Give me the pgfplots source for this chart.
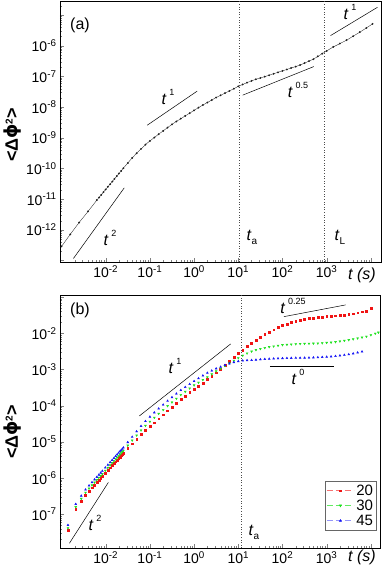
\documentclass[border=0pt]{standalone}
\usepackage{fontspec}
\setmainfont{Liberation Sans}
\newfontfamily\dejavu{DejaVu Sans}
\usepackage{pgfplots}
\pgfplotsset{compat=1.18}
\newcommand{\tp}[1]{10\textsuperscript{#1}}
\newcommand{\gl}[1]{\textit{t}\,\raisebox{1.1ex}{\fontsize{9}{9}\selectfont #1}}
\newcommand{\gs}[1]{\textit{t}\raisebox{-0.5ex}{\fontsize{10}{10}\selectfont #1}}
\newcommand{\ylab}{\fontsize{18}{18}\selectfont\bfseries <Δ{\dejavu\bfseries ϕ}\raisebox{0.55ex}{\fontsize{10}{10}\selectfont 2}>}
\definecolor{mygreen}{RGB}{30,225,30}
\definecolor{myred}{RGB}{240,20,20}
\definecolor{myblue}{RGB}{20,20,245}
\begin{document}
\begin{tikzpicture}
\useasboundingbox (0pt,0pt) rectangle (382pt,575pt);
% ---------------- panel (a)
\begin{axis}[at={(60pt,313pt)}, anchor=south west, scale only axis, width=321pt, height=261pt,
  xmode=log, ymode=log,
  tick align=inside, xtick pos=bottom, ytick pos=left,
  major tick length=4pt, minor tick length=2pt,
  axis line style={line width=0.7pt},
  ticklabel style={font=\fontsize{14}{14}\selectfont},
  xtick={1e-2,1e-1,1,10,100,1000,10000},
  xticklabels={\tp{-2},\tp{-1},\tp{0},\tp{1},\tp{2},\tp{3},},
  minor xtick={0.002,0.003,0.004,0.005,0.006,0.007,0.008,0.009,0.02,0.03,0.04,0.05,0.06,0.07,0.08,0.09,0.2,0.3,0.4,0.5,0.6,0.7,0.8,0.9,2,3,4,5,6,7,8,9,20,30,40,50,60,70,80,90,200,300,400,500,600,700,800,900,2000,3000,4000,5000,6000,7000,8000,9000},
  xmin=9.25e-4, xmax=1.7e4, ymin=9e-14, ymax=2.86e-5,
  ytick={1e-13,1e-12,1e-11,1e-10,1e-9,1e-8,1e-7,1e-6,1e-5},
  yticklabels={,\tp{-12},\tp{-11},\tp{-10},\tp{-9},\tp{-8},\tp{-7},\tp{-6},},
  minor ytick={2e-13,3e-13,4e-13,5e-13,6e-13,7e-13,8e-13,9e-13,2e-12,3e-12,4e-12,5e-12,6e-12,7e-12,8e-12,9e-12,2e-11,3e-11,4e-11,5e-11,6e-11,7e-11,8e-11,9e-11,2e-10,3e-10,4e-10,5e-10,6e-10,7e-10,8e-10,9e-10,2e-9,3e-9,4e-9,5e-9,6e-9,7e-9,8e-9,9e-9,2e-8,3e-8,4e-8,5e-8,6e-8,7e-8,8e-8,9e-8,2e-7,3e-7,4e-7,5e-7,6e-7,7e-7,8e-7,9e-7,2e-6,3e-6,4e-6,5e-6,6e-6,7e-6,8e-6,9e-6,2e-5},
]
\addplot[black!85, line width=0.35pt, mark=*, mark size=0.75pt, mark options={fill=black}] coordinates {
(1e-3,2.88e-13) (1.58e-3,7.2e-13) (2.51e-3,1.74e-12) (3.98e-3,3.98e-12) (6.31e-3,9.33e-12)
(7.08e-3,1.14e-11) (7.94e-3,1.39e-11) (8.91e-3,1.70e-11) (1e-2,2.07e-11) (1.12e-2,2.54e-11)
(1.26e-2,3.09e-11) (1.41e-2,3.77e-11) (1.58e-2,4.60e-11) (1.78e-2,5.62e-11) (2.0e-2,6.87e-11)
(2.24e-2,8.38e-11) (2.51e-2,1.02e-10) (3.16e-2,1.51e-10) (3.98e-2,2.22e-10) (5.01e-2,3.12e-10)
(6.31e-2,4.33e-10) (7.94e-2,6.0e-10) (0.1,7.89e-10) (0.126,1.02e-9) (0.158,1.31e-9)
(0.2,1.68e-9) (0.251,2.15e-9) (0.316,2.74e-9) (0.398,3.41e-9) (0.501,4.20e-9)
(0.631,5.16e-9) (0.794,6.35e-9) (1,7.82e-9) (1.26,9.62e-9) (1.58,1.17e-8)
(2.0,1.41e-8) (2.51,1.70e-8) (3.16,2.05e-8) (3.98,2.42e-8) (5.01,2.85e-8)
(6.31,3.36e-8) (7.94,3.98e-8) (10,4.73e-8) (12.6,5.47e-8) (15.8,6.27e-8)
(20,7.18e-8) (25.1,8.05e-8) (31.6,8.89e-8) (39.8,9.84e-8) (50.1,1.09e-7)
(63.1,1.22e-7) (79.4,1.36e-7) (100,1.51e-7) (126,1.69e-7) (158,1.88e-7)
(200,2.10e-7) (251,2.34e-7) (316,2.71e-7) (398,3.14e-7) (501,3.63e-7)
(631,4.47e-7) (794,5.50e-7) (1000,6.76e-7) (1413,9.12e-7) (1995,1.17e-6)
(2818,1.51e-6) (3981,2.04e-6) (5623,2.75e-6) (7943,3.80e-6) (10965,5.13e-6)
};
\addplot[black, line width=0.5pt] coordinates {(1.86e-3,1.17e-13) (2.63e-2,2.34e-11)};
\addplot[black, line width=0.5pt] coordinates {(8.71e-2,2.57e-9) (1.175,3.31e-8)};
\addplot[black, line width=0.5pt] coordinates {(12.6,2.45e-8) (513,2.09e-7)};
\addplot[black, line width=0.5pt] coordinates {(1230,2.14e-6) (1.41e4,1.78e-5)};
\addplot[black!70, line width=0.6pt, dash pattern=on 0.6pt off 2pt] coordinates {(10.5,9e-14) (10.5,2.86e-5)};
\addplot[black!70, line width=0.6pt, dash pattern=on 0.6pt off 2pt] coordinates {(900,9e-14) (900,2.86e-5)};
\end{axis}
% ---------------- panel (b)
\begin{axis}[at={(60pt,27pt)}, anchor=south west, scale only axis, width=320pt, height=253pt,
  xmode=log, ymode=log,
  tick align=inside, xtick pos=bottom, ytick pos=left,
  major tick length=4pt, minor tick length=2pt,
  axis line style={line width=0.7pt},
  ticklabel style={font=\fontsize{14}{14}\selectfont},
  xtick={1e-2,1e-1,1,10,100,1000,10000},
  xticklabels={\tp{-2},\tp{-1},\tp{0},\tp{1},\tp{2},\tp{3},},
  minor xtick={0.002,0.003,0.004,0.005,0.006,0.007,0.008,0.009,0.02,0.03,0.04,0.05,0.06,0.07,0.08,0.09,0.2,0.3,0.4,0.5,0.6,0.7,0.8,0.9,2,3,4,5,6,7,8,9,20,30,40,50,60,70,80,90,200,300,400,500,600,700,800,900,2000,3000,4000,5000,6000,7000,8000,9000},
  xmin=9.25e-4, xmax=1.61e4, ymin=1.17e-8, ymax=0.114,
  ytick={1e-8,1e-7,1e-6,1e-5,1e-4,1e-3,1e-2,1e-1},
  yticklabels={,\tp{-7},\tp{-6},\tp{-5},\tp{-4},\tp{-3},\tp{-2},},
  minor ytick={2e-8,3e-8,4e-8,5e-8,6e-8,7e-8,8e-8,9e-8,2e-7,3e-7,4e-7,5e-7,6e-7,7e-7,8e-7,9e-7,2e-6,3e-6,4e-6,5e-6,6e-6,7e-6,8e-6,9e-6,2e-5,3e-5,4e-5,5e-5,6e-5,7e-5,8e-5,9e-5,2e-4,3e-4,4e-4,5e-4,6e-4,7e-4,8e-4,9e-4,2e-3,3e-3,4e-3,5e-3,6e-3,7e-3,8e-3,9e-3,2e-2,3e-2,4e-2,5e-2,6e-2,7e-2,8e-2,9e-2},
  legend style={at={(0.99,0.07)}, anchor=south east, draw=black!60, line width=0.5pt,
    font=\fontsize{15}{15}\selectfont, inner sep=1.5pt, row sep=-1pt},
  legend cell align=left,
]
\addplot[only marks, mark=square*, mark size=0.9pt, myred,
  legend image code/.code={\draw[myred!60, dash pattern=on 6pt off 3pt, line width=0.6pt] (0pt,0pt) -- (27pt,0pt); \fill[myred] (12.6pt,-0.9pt) rectangle (14.4pt,0.9pt);}] coordinates {
(0.0014,3.55e-8) (0.0021,1.35e-7) (0.0028,2.29e-7) (0.0035,3.39e-7) (0.0042,4.39e-7)
(0.0049,5.40e-7) (0.0056,6.46e-7) (0.0063,7.57e-7) (0.007,8.73e-7) (0.0077,9.91e-7)
(0.0084,1.11e-6) (0.0098,1.37e-6) (0.0112,1.64e-6) (0.0126,1.93e-6) (0.014,2.22e-6)
(0.0154,2.52e-6) (0.0168,2.84e-6) (0.0182,3.17e-6) (0.0196,3.50e-6) (0.021,3.85e-6)
(0.0224,4.19e-6) (0.0238,4.55e-6) (0.0252,4.90e-6)
(0.0316,6.61e-6) (0.0398,8.95e-6) (0.0501,1.21e-5) (0.0631,1.64e-5) (0.0794,2.14e-5)
(0.1,2.69e-5) (0.126,3.40e-5) (0.158,4.39e-5) (0.2,5.65e-5) (0.251,7.26e-5)
(0.316,9.29e-5) (0.398,1.19e-4) (0.501,1.51e-4) (0.631,1.87e-4) (0.794,2.32e-4)
(1,2.86e-4) (1.26,3.50e-4) (1.58,4.28e-4) (2.0,5.25e-4) (2.51,6.53e-4)
(3.16,8.13e-4) (3.98,1.04e-3) (5.01,1.34e-3) (6.31,1.71e-3) (7.94,2.17e-3)
(10,2.75e-3) (12.6,3.47e-3) (15.8,4.34e-3) (20,5.40e-3) (25.1,6.55e-3)
(31.6,7.82e-3) (39.8,9.31e-3) (50.1,1.09e-2) (63.1,1.25e-2) (79.4,1.44e-2)
(100,1.65e-2) (126,1.82e-2) (158,1.98e-2) (200,2.15e-2) (251,2.34e-2)
(316,2.45e-2) (398,2.56e-2) (501,2.67e-2) (631,2.77e-2) (794,2.84e-2)
(1000,2.91e-2) (1259,2.99e-2) (1585,3.05e-2) (1995,3.13e-2) (2512,3.21e-2)
(3162,3.29e-2) (3981,3.46e-2) (5012,3.68e-2) (6310,3.92e-2) (7943,4.17e-2)
(10000,4.83e-2)
};
\addlegendentry{20}
\addplot[only marks, mark=triangle*, mark size=1.1pt, mark options={rotate=180}, mygreen,
  legend image code/.code={\draw[mygreen!70, dash pattern=on 6pt off 3pt, line width=0.6pt] (0pt,0pt) -- (27pt,0pt); \fill[mygreen] (13.5pt,-1.1pt) -- (12.4pt,0.8pt) -- (14.6pt,0.8pt) -- cycle;}] coordinates {
(0.0014,4.17e-8) (0.0021,1.59e-7) (0.0028,2.69e-7) (0.0035,3.98e-7) (0.0042,5.16e-7)
(0.0049,6.35e-7) (0.0056,7.59e-7) (0.0063,8.89e-7) (0.007,1.03e-6) (0.0077,1.16e-6)
(0.0084,1.30e-6) (0.0098,1.61e-6) (0.0112,1.93e-6) (0.0126,2.27e-6) (0.014,2.61e-6)
(0.0154,2.96e-6) (0.0168,3.34e-6) (0.0182,3.72e-6) (0.0196,4.11e-6) (0.021,4.52e-6)
(0.0224,4.92e-6) (0.0238,5.35e-6) (0.0252,5.76e-6)
(0.0316,7.94e-6) (0.0398,1.10e-5) (0.0501,1.51e-5) (0.0631,2.09e-5) (0.0794,2.80e-5)
(0.1,3.63e-5) (0.126,4.69e-5) (0.158,6.0e-5) (0.2,7.67e-5) (0.251,9.79e-5)
(0.316,1.24e-4) (0.398,1.57e-4) (0.501,1.99e-4) (0.631,2.44e-4) (0.794,3.01e-4)
(1,3.67e-4) (1.26,4.36e-4) (1.58,5.16e-4) (2.0,6.14e-4) (2.51,7.41e-4)
(3.16,8.95e-4) (3.98,1.06e-3) (5.01,1.26e-3) (6.31,1.49e-3) (7.94,1.76e-3)
(10,2.07e-3) (12.6,2.43e-3) (15.8,2.79e-3) (20,3.15e-3) (25.1,3.45e-3)
(31.6,3.70e-3) (39.8,3.96e-3) (50.1,4.18e-3) (63.1,4.36e-3) (79.4,4.55e-3)
(100,4.74e-3) (126,4.85e-3) (158,4.94e-3) (200,5.04e-3) (251,5.13e-3)
(316,5.16e-3) (398,5.19e-3) (501,5.22e-3) (631,5.27e-3) (794,5.37e-3)
(1000,5.47e-3) (1259,5.57e-3) (1585,5.74e-3) (1995,6.0e-3) (2512,6.25e-3)
(3162,6.52e-3) (3981,6.87e-3) (5012,7.26e-3) (6310,7.69e-3) (7943,8.13e-3)
(10000,8.93e-3) (12589,9.82e-3) (14791,1.05e-2)
};
\addlegendentry{30}
\addplot[only marks, mark=triangle*, mark size=1.1pt, myblue,
  legend image code/.code={\draw[myblue!45, dash pattern=on 6pt off 3pt, line width=0.9pt] (0pt,0pt) -- (27pt,0pt); \fill[myblue] (13.5pt,1.1pt) -- (12.4pt,-0.8pt) -- (14.6pt,-0.8pt) -- cycle;}] coordinates {
(0.0014,5.02e-8) (0.0021,1.91e-7) (0.0028,3.24e-7) (0.0035,4.79e-7) (0.0042,6.20e-7)
(0.0049,7.63e-7) (0.0056,9.13e-7) (0.0063,1.07e-6) (0.007,1.23e-6) (0.0077,1.40e-6)
(0.0084,1.57e-6) (0.0098,1.94e-6) (0.0112,2.32e-6) (0.0126,2.73e-6) (0.014,3.14e-6)
(0.0154,3.56e-6) (0.0168,4.01e-6) (0.0182,4.48e-6) (0.0196,4.95e-6) (0.021,5.44e-6)
(0.0224,5.92e-6) (0.0238,6.43e-6) (0.0252,6.92e-6)
(0.0316,9.75e-6) (0.0398,1.37e-5) (0.0501,1.94e-5) (0.0631,2.73e-5) (0.0794,3.72e-5)
(0.1,4.93e-5) (0.126,6.47e-5) (0.158,8.28e-5) (0.2,1.06e-4) (0.251,1.35e-4)
(0.316,1.70e-4) (0.398,2.14e-4) (0.501,2.67e-4) (0.631,3.24e-4) (0.794,3.92e-4)
(1,4.73e-4) (1.26,5.66e-4) (1.58,6.76e-4) (2.0,8.05e-4) (2.51,9.23e-4)
(3.16,1.06e-3) (3.98,1.18e-3) (5.01,1.32e-3) (6.31,1.45e-3) (7.94,1.58e-3)
(10,1.68e-3) (12.6,1.75e-3) (15.8,1.79e-3) (20,1.81e-3) (25.1,1.85e-3)
(31.6,1.89e-3) (39.8,1.93e-3) (50.1,1.96e-3) (63.1,1.99e-3) (79.4,2.01e-3)
(100,2.04e-3) (126,2.05e-3) (158,2.07e-3) (200,2.08e-3) (251,2.09e-3)
(316,2.10e-3) (398,2.11e-3) (501,2.13e-3) (631,2.15e-3) (794,2.19e-3)
(1000,2.23e-3) (1259,2.27e-3) (1585,2.33e-3) (1995,2.42e-3) (2512,2.51e-3)
(3162,2.60e-3) (3981,2.75e-3) (5012,2.92e-3) (6310,3.11e-3)
};
\addlegendentry{45}
\addplot[black, line width=0.5pt, forget plot] coordinates {(1.51e-3,1.58e-8) (1.15e-2,7.59e-7)};
\addplot[black, line width=0.5pt, forget plot] coordinates {(5.78e-2,5.2e-5) (6.73,5.07e-3)};
\addplot[black, line width=0.5pt, forget plot] coordinates {(108,2.88e-2) (2690,6.07e-2)};
\addplot[black, line width=0.5pt, forget plot] coordinates {(52.2,1.2e-3) (1493,1.2e-3)};
\addplot[black!70, line width=0.6pt, dash pattern=on 0.6pt off 2pt, forget plot] coordinates {(12,1.17e-8) (12,0.114)};
\end{axis}
% ---------------- text
\begin{scope}[every node/.style={font=\fontsize{16}{16}\selectfont, inner sep=0pt}]
\node at (80pt,550pt) {(a)};
\node at (168pt,478pt) {\gl{1}};
\node at (298pt,485pt) {\gl{0.5}};
\node at (110pt,337pt) {\gl{2}};
\node at (252pt,338pt) {\gs{a}};
\node at (340pt,338pt) {\gs{L}};
\node at (350pt,563pt) {\gl{1}};
\node at (362pt,300pt) {\textit{t (s)}};
\node[rotate=90] at (13pt,440pt) {\ylab};
\node at (80pt,265pt) {(b)};
\node at (175pt,209pt) {\gl{1}};
\node at (293pt,269pt) {\gl{0.25}};
\node at (298pt,198pt) {\gl{0}};
\node at (95pt,52pt) {\gl{2}};
\node at (254pt,43pt) {\gs{a}};
\node at (362pt,18pt) {\textit{t (s)}};
\node[rotate=90] at (13pt,143pt) {\ylab};
\end{scope}
\end{tikzpicture}
\end{document}
